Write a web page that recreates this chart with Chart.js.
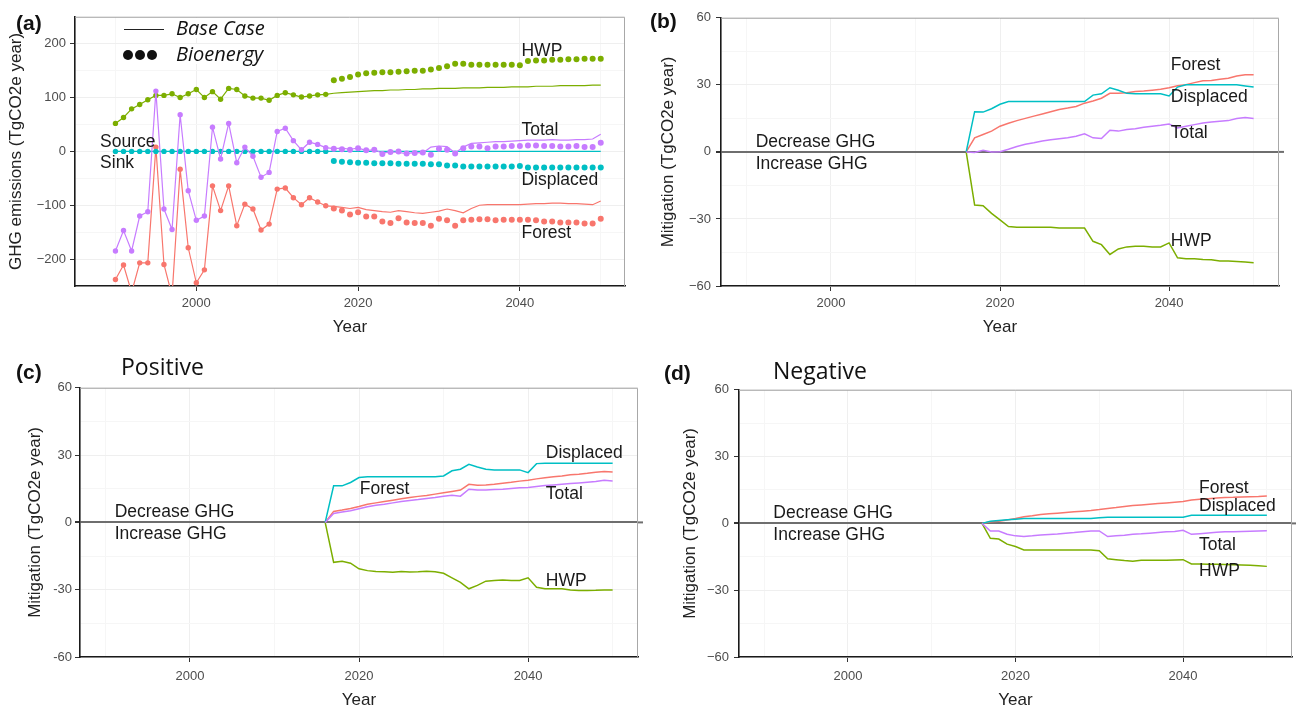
<!DOCTYPE html>
<html>
<head>
<meta charset="utf-8">
<script src="https://cdn.jsdelivr.net/npm/chart.js@4.4.1/dist/chart.umd.min.js"></script>
<style>
html, body { margin: 0; padding: 0; background: #fff; width: 1296px; height: 711px; overflow: hidden; position: relative; font-family: "Liberation Sans", Arial, sans-serif; }
canvas { position: absolute; z-index: 1; }
.lbl { position: absolute; z-index: 2; line-height: 1; white-space: nowrap; color: #111; }
.tag { font-weight: bold; font-size: 21px; }
.sub { font-family: "Open Sans", sans-serif; font-size: 23px; }
.key { font-family: "Open Sans", sans-serif; font-style: italic; font-size: 20px; background: #fff; padding-right: 2px; }
.keyline { position: absolute; z-index: 2; border-top: 1.5px solid #222; width: 40px; height: 0; }
.dot { position: absolute; z-index: 2; width: 10px; height: 10px; border-radius: 50%; background: #111; }
</style>
</head>
<body>

<div class="lbl tag" style="left:16px;top:12px">(a)</div>
<div class="lbl tag" style="left:650px;top:10px">(b)</div>
<div class="lbl tag" style="left:16px;top:361px">(c)</div>
<div class="lbl tag" style="left:664px;top:362px">(d)</div>
<div class="lbl sub" style="left:121px;top:355px">Positive</div>
<div class="lbl sub" style="left:773px;top:359px">Negative</div>

<!-- panel (a) key -->
<div class="keyline" style="left:124px;top:29px"></div>
<div class="lbl key" style="left:176px;top:18px">Base Case</div>
<div class="dot" style="left:123px;top:50px"></div>
<div class="dot" style="left:135px;top:50px"></div>
<div class="dot" style="left:147px;top:50px"></div>
<div class="lbl key" style="left:176px;top:44px">Bioenergy</div>

<script>
// ---- data -------------------------------------------------------------
const range = (a, b) => { const r = []; for (let v = a; v <= b; v++) r.push(v); return r; };

const yearsHist = range(1990, 2016);   // history, shared by both scenarios
const yearsBase = range(2016, 2050);   // base case projection
const yearsBio = range(2017, 2050);    // bioenergy projection
const yearsMit = range(2016, 2050);    // mitigation panels

// (a) GHG emissions, TgCO2e / year
const forestHist = [-238, -211, -262, -207, -207, 8, -210, -268, -33, -179, -244, -220, -64, -110, -64, -138, -98, -107, -146, -135, -70, -68, -86, -99, -86, -94, -101];
const hwpHist = [52, 63, 79, 87, 96, 104, 104, 107, 100, 107, 115, 100, 111, 97, 117, 115, 103, 99, 99, 95, 104, 109, 105, 101, 103, 105, 106];
const displacedHist = [0, 0, 0, 0, 0, 0, 0, 0, 0, 0, 0, 0, 0, 0, 0, 0, 0, 0, 0, 0, 0, 0, 0, 0, 0, 0, 0];
const totalHist = [-185, -147, -185, -120, -112, 112, -107, -145, 68, -73, -128, -120, 45, -14, 52, -21, 8, -9, -48, -39, 37, 43, 20, 3, 17, 13, 7];

const forestBase = [-101, -102, -104, -106, -104, -108, -110, -112, -113, -110, -112, -114, -115, -113, -111, -107, -110, -114, -106, -100, -99, -99, -99, -99, -99, -98, -97, -97, -96, -96, -97, -97, -98, -99, -92];
const hwpBase = [106, 108, 109, 110, 111, 112, 113, 113, 114, 114, 115, 115, 116, 116, 117, 117, 117, 118, 118, 118, 119, 119, 119, 120, 120, 120, 121, 121, 121, 122, 122, 122, 122, 123, 123];
const displacedBase = [0, 0, 0, 0, 0, 0, 0, 0, 0, 0, 0, 0, 0, 0, 0, 0, 0, 0, 0, 0, 0, 0, 0, 0, 0, 0, 0, 0, 0, 0, 0, 0, 0, 0, 0];
const totalBase = [7, 5, 6, 4, 6, 2, 3, -3, -1, -2, -4, -2, -3, 8, 10, 9, -3, 8, 15, 16, 17, 18, 18, 19, 20, 21, 21, 21, 22, 21, 21, 22, 22, 23, 32];

const forestBio = [-106, -110, -117, -113, -121, -121, -130, -133, -124, -132, -133, -133, -138, -125, -128, -138, -128, -127, -126, -126, -128, -127, -127, -127, -127, -128, -130, -130, -132, -132, -132, -134, -134, -125];
const hwpBio = [132, 135, 138, 143, 145, 146, 147, 147, 148, 149, 150, 150, 152, 155, 158, 163, 163, 161, 161, 161, 161, 161, 161, 160, 168, 169, 169, 170, 170, 171, 171, 172, 172, 172];
const displacedBio = [-18, -19, -20, -21, -21, -22, -22, -22, -23, -23, -23, -23, -24, -24, -26, -26, -28, -28, -28, -28, -28, -28, -28, -27, -30, -30, -30, -30, -30, -30, -30, -30, -30, -30];
const totalBio = [5, 4, 3, 6, 2, 3, -5, -1, 0, -4, -3, -2, -6, 5, 3, -4, 6, 9, 9, 6, 9, 9, 10, 10, 11, 11, 10, 10, 9, 9, 10, 8, 8, 16];

// (b) mitigation, all
const bForest = [0, 6.3, 7.8, 9.3, 11.5, 12.8, 14, 15, 16, 17, 18, 19, 19.6, 20.3, 21.8, 22.8, 24, 26.2, 26.2, 26.5, 27, 27.2, 27.6, 28, 28.7, 29.6, 30.1, 31, 31.8, 32, 32.5, 33, 34, 34.5, 34.5];
const bDisplaced = [0, 18, 17.8, 19.3, 21.3, 22.5, 22.5, 22.5, 22.5, 22.5, 22.5, 22.5, 22.5, 22.5, 22.5, 25.4, 26, 28.7, 27.6, 26.2, 26, 26, 26, 26, 25, 29, 30, 30, 30, 30, 30, 30, 30, 29.5, 29];
const bTotal = [0, -0.3, 0.7, 0, 0.1, 1.2, 2.4, 3.4, 4.1, 4.9, 5.4, 5.9, 6.3, 7, 8.1, 6.3, 6, 9.7, 9.3, 10, 10.4, 11, 11.5, 11.9, 12.5, 10.7, 11.5, 12.2, 12.9, 13.4, 13.7, 14, 14.9, 15.4, 14.9];
const bHwp = [0, -23.8, -24.1, -27.5, -30.4, -33.4, -33.7, -33.7, -33.7, -33.7, -33.7, -34.1, -34.1, -34.1, -34.1, -40, -41.5, -45.9, -43.4, -42.5, -42.2, -42.2, -42.5, -42.5, -40.7, -47.4, -47.8, -47.8, -48.1, -48.3, -48.8, -48.8, -49, -49.3, -49.6];

// (c) mitigation, positive
const cForest = [0, 4.9, 5.5, 6.2, 7.1, 8.1, 8.7, 9.3, 9.9, 10.5, 11.1, 11.6, 12, 12.6, 13.2, 13.8, 14.4, 17, 16.6, 16.7, 17, 17.5, 17.9, 18.4, 18.8, 19.4, 19.9, 20.3, 20.7, 21.2, 21.5, 21.9, 22.4, 22.7, 22.5];
const cDisplaced = [0, 16.3, 16.3, 17.8, 20, 20.3, 20.3, 20.3, 20.3, 20.3, 20.3, 20.3, 20.3, 20.3, 20.7, 23, 23.7, 25.9, 24.7, 23.7, 23.4, 23.4, 23.4, 23.4, 22.2, 26.2, 26.4, 26.4, 26.4, 26.4, 26.4, 26.4, 26.4, 26.4, 26.4];
const cTotal = [0, 4, 4.6, 5.2, 6.1, 7, 7.6, 8.1, 8.7, 9.3, 9.8, 10.2, 10.7, 11.1, 11.7, 12.1, 11.7, 14.8, 14.4, 14.4, 14.7, 14.8, 15.1, 15.4, 15.6, 16, 16.4, 16.7, 17, 17.3, 17.6, 17.9, 18.2, 18.8, 18.5];
const cHwp = [0, -17.8, -17.3, -18.2, -20.7, -21.5, -21.9, -22, -22.2, -21.9, -22.1, -22, -21.8, -22, -22.7, -24.7, -26.7, -29.6, -28.1, -26.2, -25.9, -25.7, -25.9, -25.9, -24.7, -28.9, -29.6, -29.6, -29.6, -30.1, -30.4, -30.4, -30.3, -30.1, -30.1];

// (d) mitigation, negative
const dForest = [0, 0.7, 1, 1.5, 2.2, 3, 3.4, 4, 4.3, 4.6, 4.9, 5.2, 5.5, 5.8, 6.2, 6.7, 7.1, 7.6, 8, 8.3, 8.6, 8.9, 9.2, 9.5, 9.8, 10.5, 10.8, 11.1, 11.4, 11.6, 11.7, 11.9, 12, 12.1, 12.3];
const dDisplaced = [0, 1, 1.3, 1.6, 1.9, 2.2, 2.2, 2.2, 2.2, 2.2, 2.2, 2.2, 2.2, 2.2, 2.5, 2.8, 2.8, 2.8, 2.8, 2.8, 2.8, 2.8, 2.8, 2.8, 2.8, 3.7, 3.7, 3.7, 3.7, 3.7, 3.7, 3.7, 3.7, 3.7, 3.7];
const dTotal = [0, -3.4, -3.4, -4.9, -5.6, -5.9, -5.6, -5.2, -5, -4.8, -4.4, -4.1, -3.7, -3.4, -3.4, -5.9, -5.6, -5.3, -4.9, -4.7, -4.4, -4.1, -3.8, -3.6, -3.1, -4.9, -4.6, -4.3, -4, -3.8, -3.7, -3.6, -3.5, -3.4, -3.3];
const dHwp = [0, -6.7, -7, -9.3, -10.4, -11.9, -11.9, -11.9, -11.9, -11.9, -11.9, -11.9, -11.9, -11.9, -12.3, -15.9, -16.3, -16.7, -17, -16.6, -16.6, -16.6, -16.5, -16.4, -16.3, -18.2, -18.2, -18.3, -18.4, -18.5, -18.6, -18.7, -18.8, -19, -19.3];

// ticks
const xGridYears = [1990, 2000, 2010, 2020, 2030, 2040, 2050];
const xLabelYears = [2000, 2020, 2040];
const yGridA = [-250, -200, -150, -100, -50, 0, 50, 100, 150, 200, 250];
const yLabelA = [-200, -100, 0, 100, 200];
const yGridM = [-60, -45, -30, -15, 0, 15, 30, 45, 60];
const yLabelM = [-60, -30, 0, 30, 60];

// ---- styling ------------------------------------------------------------
const RED = '#F8766D', GREEN = '#7CAE00', CYAN = '#00BFC4', PURPLE = '#C77CFF';
Chart.defaults.font.family = '"Liberation Sans", Arial, sans-serif';

const pts = (xs, ys) => xs.map((x, i) => ({ x: x, y: ys[i] }));

// borders on top/right, labels written in data units, optional zero line run-out
const panelDecor = {
    id: 'panelDecor',
    afterDatasetsDraw(chart, args, opts) {
        const { ctx, chartArea: a, scales } = chart;
        ctx.save();
        ctx.strokeStyle = '#a8a8a8';
        ctx.lineWidth = 1;
        ctx.beginPath();
        ctx.moveTo(a.left, a.top + 0.5);
        ctx.lineTo(a.right - 0.5, a.top + 0.5);
        ctx.lineTo(a.right - 0.5, a.bottom);
        ctx.stroke();
        if (opts.extendZero) {
            const y0 = scales.y.getPixelForValue(0);
            ctx.strokeStyle = '#6e6e6e';
            ctx.lineWidth = 2;
            ctx.beginPath();
            ctx.moveTo(a.right, y0);
            ctx.lineTo(chart.width, y0);
            ctx.stroke();
        }
        ctx.fillStyle = '#1a1a1a';
        ctx.font = '17.5px "Liberation Sans", Arial, sans-serif';
        ctx.textAlign = 'left';
        ctx.textBaseline = 'middle';
        (opts.notes || []).forEach(n => {
            ctx.fillText(n.text, scales.x.getPixelForValue(n.x), scales.y.getPixelForValue(n.y));
        });
        ctx.restore();
    }
};

function fmt(v, minus) {
    return v < 0 ? minus + Math.abs(v) : String(v);
}

function makePanel(box, cfg) {
    const canvas = document.createElement('canvas');
    canvas.width = box.w;
    canvas.height = box.h;
    canvas.style.left = box.left + 'px';
    canvas.style.top = box.top + 'px';
    document.body.appendChild(canvas);

    new Chart(canvas.getContext('2d'), {
        type: 'line',
        data: { datasets: cfg.datasets },
        plugins: [panelDecor],
        options: {
            responsive: false,
            animation: false,
            devicePixelRatio: 1,
            layout: { padding: { top: box.padTop, right: box.padRight, left: 0, bottom: 0 } },
            elements: { line: { tension: 0 } },
            plugins: {
                legend: { display: false },
                tooltip: { enabled: false },
                panelDecor: { notes: cfg.notes, extendZero: cfg.extendZero }
            },
            scales: {
                x: {
                    type: 'linear',
                    min: cfg.xMin,
                    max: cfg.xMax,
                    afterBuildTicks: s => { s.ticks = xGridYears.map(v => ({ value: v })); },
                    afterFit: s => { s.height = box.xH; },
                    ticks: {
                        autoSkip: false,
                        maxRotation: 0,
                        color: '#4d4d4d',
                        font: { size: 13 },
                        padding: box.xPad,
                        callback: v => (xLabelYears.includes(v) ? String(v) : '')
                    },
                    grid: {
                        color: c => (xLabelYears.includes(c.tick.value) ? '#efefef' : '#f6f6f6'),
                        tickColor: c => (xLabelYears.includes(c.tick.value) ? '#333' : 'rgba(0,0,0,0)'),
                        tickLength: 5
                    },
                    border: { color: '#1a1a1a', width: 1.6 },
                    title: { display: true, text: 'Year', color: '#222', font: { size: 17 }, padding: 0 }
                },
                y: {
                    type: 'linear',
                    min: cfg.yGrid[0],
                    max: cfg.yGrid[cfg.yGrid.length - 1],
                    afterBuildTicks: s => { s.ticks = cfg.yGrid.map(v => ({ value: v })); },
                    afterFit: s => { s.width = box.yW; },
                    ticks: {
                        color: '#4d4d4d',
                        font: { size: 13 },
                        padding: box.yPad,
                        callback: v => (cfg.yLabels.includes(v) ? fmt(v, cfg.minus) : '')
                    },
                    grid: {
                        color: c => {
                            if (cfg.extendZero && c.tick.value === 0) return '#6e6e6e';
                            return cfg.yLabels.includes(c.tick.value) ? '#efefef' : '#f6f6f6';
                        },
                        lineWidth: c => (cfg.extendZero && c.tick.value === 0 ? 2 : 1),
                        tickColor: c => (cfg.yLabels.includes(c.tick.value) ? '#333' : 'rgba(0,0,0,0)'),
                        tickLength: 5
                    },
                    border: { color: '#1a1a1a', width: 1.6 },
                    title: { display: true, text: cfg.yTitle, color: '#222', font: { size: 17 }, padding: 0 }
                }
            }
        }
    });
}

// ---- panel (a) ------------------------------------------------------------
function histSet(vals, color, order) {
    return { data: pts(yearsHist, vals), borderColor: color, backgroundColor: color, borderWidth: 1.2,
             pointRadius: 2.7, pointBorderWidth: 0, order: order };
}
function baseSet(vals, color, order) {
    return { data: pts(yearsBase, vals), borderColor: color, backgroundColor: color, borderWidth: 1.2,
             pointRadius: 0, order: order };
}
function bioSet(vals, color, order) {
    return { data: pts(yearsBio, vals), borderColor: color, backgroundColor: color, showLine: false,
             pointRadius: 3, pointBorderWidth: 0, order: order };
}

makePanel(
    { left: 6, top: 5, w: 624, h: 333, yW: 69, xH: 52, padTop: 10, padRight: 5, xPad: 5, yPad: 4 },
    {
        xMin: 1985, xMax: 2053, yGrid: yGridA, yLabels: yLabelA, minus: '\u2212',
        yTitle: 'GHG emissions (TgCO2e year)', extendZero: false,
        datasets: [
            histSet(forestHist, RED, 4), baseSet(forestBase, RED, 4), bioSet(forestBio, RED, 4),
            histSet(hwpHist, GREEN, 3), baseSet(hwpBase, GREEN, 3), bioSet(hwpBio, GREEN, 3),
            histSet(displacedHist, CYAN, 2), baseSet(displacedBase, CYAN, 2), bioSet(displacedBio, CYAN, 2),
            histSet(totalHist, PURPLE, 1), baseSet(totalBase, PURPLE, 1), bioSet(totalBio, PURPLE, 1)
        ],
        notes: [
            { text: 'HWP', x: 2040.2, y: 187 },
            { text: 'Total', x: 2040.2, y: 39 },
            { text: 'Displaced', x: 2040.2, y: -53 },
            { text: 'Forest', x: 2040.2, y: -151 },
            { text: 'Source', x: 1988.1, y: 17 },
            { text: 'Sink', x: 1988.1, y: -22 }
        ]
    }
);

// ---- panels (b)-(d) ---------------------------------------------------------
function mitSets(forest, hwp, displaced, total) {
    const one = (vals, color, order) => ({ data: pts(yearsMit, vals), borderColor: color, borderWidth: 1.5,
                                          pointRadius: 0, order: order });
    return [one(forest, RED, 4), one(hwp, GREEN, 3), one(displaced, CYAN, 2), one(total, PURPLE, 1)];
}
const mitTitle = 'Mitigation (TgCO2e year)';
const ghgNotes = [
    { text: 'Decrease GHG', x: 1991.1, y: 4.4 },
    { text: 'Increase GHG', x: 1991.1, y: -5.3 }
];

makePanel(
    { left: 658, top: 5, w: 626, h: 333, yW: 63, xH: 52, padTop: 10, padRight: 5, xPad: 5, yPad: 5 },
    {
        xMin: 1987, xMax: 2053, yGrid: yGridM, yLabels: yLabelM, minus: '\u2212',
        yTitle: mitTitle, extendZero: true,
        datasets: mitSets(bForest, bHwp, bDisplaced, bTotal),
        notes: ghgNotes.concat([
            { text: 'Forest', x: 2040.2, y: 38.8 },
            { text: 'Displaced', x: 2040.2, y: 24.3 },
            { text: 'Total', x: 2040.2, y: 8.4 },
            { text: 'HWP', x: 2040.2, y: -40 }
        ])
    }
);

makePanel(
    { left: 25, top: 377, w: 618, h: 334, yW: 55, xH: 54, padTop: 10, padRight: 5, xPad: 7, yPad: 3 },
    {
        xMin: 1987, xMax: 2053, yGrid: yGridM, yLabels: yLabelM, minus: '-',
        yTitle: mitTitle, extendZero: true,
        datasets: mitSets(cForest, cHwp, cDisplaced, cTotal),
        notes: ghgNotes.concat([
            { text: 'Displaced', x: 2042.1, y: 30.7 },
            { text: 'Forest', x: 2020.1, y: 14.8 },
            { text: 'Total', x: 2042.1, y: 12.6 },
            { text: 'HWP', x: 2042.1, y: -26.2 }
        ])
    }
);

makePanel(
    { left: 680, top: 377, w: 616, h: 334, yW: 59, xH: 54, padTop: 10, padRight: 4, xPad: 7, yPad: 5 },
    {
        xMin: 1987, xMax: 2053, yGrid: yGridM, yLabels: yLabelM, minus: '\u2212',
        yTitle: mitTitle, extendZero: true,
        datasets: mitSets(dForest, dHwp, dDisplaced, dTotal),
        notes: ghgNotes.concat([
            { text: 'Forest', x: 2041.9, y: 15.6 },
            { text: 'Displaced', x: 2041.9, y: 7.7 },
            { text: 'Total', x: 2041.9, y: -9.6 },
            { text: 'HWP', x: 2041.9, y: -21.5 }
        ])
    }
);
</script>
</body>
</html>
